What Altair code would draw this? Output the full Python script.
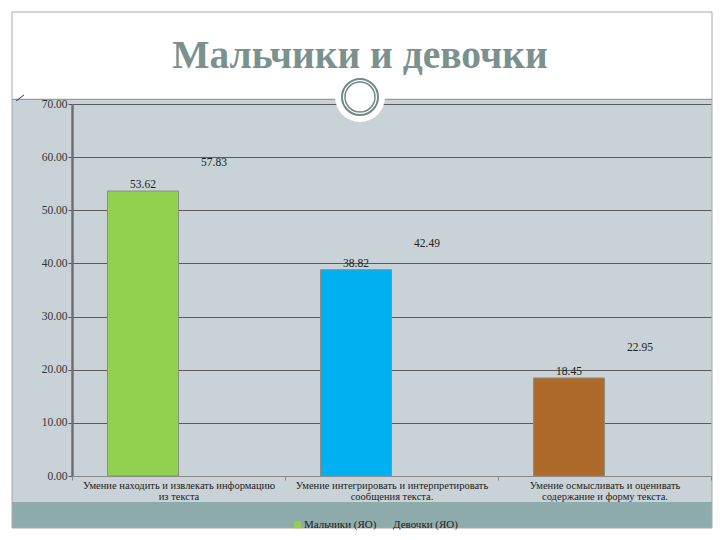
import altair as alt
import pandas as pd

categories = [
    "Умение находить и извлекать информацию|из текста",
    "Умение интегрировать и интерпретировать|сообщения текста.",
    "Умение осмысливать и оценивать|содержание и форму текста.",
]
series = ["Мальчики (ЯО)", "Девочки (ЯО)"]
boys = [53.62, 38.82, 18.45]
girls = [57.83, 42.49, 22.95]
bar_colors = ["#92d050", "#00b0f0", "#ad6a2b"]
title_text = "Мальчики и девочки"

rows = []
keys, key_colors = [], []
for i, c in enumerate(categories):
    for s, vals in zip(series, [boys, girls]):
        key = s if i == 0 else f"{s} {i}"
        rows.append({"cat": c, "series": s, "value": vals[i], "key": key})
        keys.append(key)
        key_colors.append(bar_colors[i] if s == series[0] else "rgba(0,0,0,0)")
df = pd.DataFrame(rows)

# plot area origin in page pixels
OX, OY = 72, 104
W, H = 639, 372
one = alt.Data(values=[{"a": 1}])


def rect(x0, y0, x1, y1, **kw):
    return alt.Chart(one).mark_rect(**kw).encode(
        x=alt.value(x0 - OX), x2=alt.value(x1 - OX),
        y=alt.value(y0 - OY), y2=alt.value(y1 - OY))


# decorations (slide background)
white_top = rect(0, 0, 720, 98.5, fill="white")
white_left = rect(0, 0, 12, 540, fill="white")
white_right = rect(712, 0, 720, 540, fill="white")
white_bottom = rect(0, 528, 720, 540, fill="white")
teal = rect(12, 502, 712, 528, fill="#8eacab")
border = rect(12, 12, 712, 528, fill="rgba(0,0,0,0)", stroke="#a8a8a8", strokeWidth=1)
hline = alt.Chart(one).mark_rule(color="#9a9a9a", strokeWidth=1).encode(
    x=alt.value(12 - OX), x2=alt.value(712 - OX), y=alt.value(99.5 - OY))
slash = alt.Chart(one).mark_rule(color="#333333", strokeWidth=1).encode(
    x=alt.value(16 - OX), x2=alt.value(24 - OX), y=alt.value(101 - OY), y2=alt.value(95 - OY))
halo = alt.Chart(one).mark_point(shape="circle", filled=True, fill="white", opacity=1, size=2500).encode(
    x=alt.value(360 - OX), y=alt.value(97 - OY))
ring1 = alt.Chart(one).mark_point(shape="circle", filled=False, stroke="#6f8a87", strokeWidth=2, opacity=1, size=1296).encode(
    x=alt.value(360 - OX), y=alt.value(97 - OY))
ring2 = alt.Chart(one).mark_point(shape="circle", filled=False, stroke="#6f8a87", strokeWidth=1.5, opacity=1, size=900).encode(
    x=alt.value(360 - OX), y=alt.value(97 - OY))
title = alt.Chart(one).mark_text(
    text=title_text, font="Liberation Serif", fontWeight="bold", fontSize=39.5,
    color="#7a918d", align="center", baseline="middle").encode(
    x=alt.value(360 - OX), y=alt.value(56 - OY))

x_enc = alt.X("cat:N", sort=categories,
              scale=alt.Scale(paddingInner=0, paddingOuter=0),
              axis=alt.Axis(title=None, labelAngle=0, labelExpr="split(datum.label, '|')",
                            tickBand="extent", labelFont="Liberation Serif", labelFontSize=10.5,
                            labelColor="#222222", labelLineHeight=11, labelPadding=0,
                            domainColor="#8a8a8a", tickColor="#8a8a8a", tickSize=4,
                            grid=False, labelLimit=260, zindex=1))
xo_enc = alt.XOffset("series:N", sort=series,
                     scale=alt.Scale(paddingInner=0, paddingOuter=0.5))
y_enc = alt.Y("value:Q", scale=alt.Scale(domain=[0, 70]),
              axis=alt.Axis(title=None, values=[0, 10, 20, 30, 40, 50, 60, 70], format=".2f",
                            labelFont="Liberation Serif", labelFontSize=11.5, labelColor="#333333",
                            labelPadding=1, tickSize=4, tickColor="#555555",
                            domainColor="#6f6f6f", domainWidth=2.5,
                            grid=True, gridColor="#5a5a5a", gridWidth=1))

bars = alt.Chart(df).mark_bar(stroke="#8a8f86", strokeWidth=1).encode(
    x=x_enc, xOffset=xo_enc, y=y_enc,
    fill=alt.Fill("key:N", scale=alt.Scale(domain=keys, range=key_colors),
                  legend=alt.Legend(title=None, values=series, orient="none",
                                    legendX=292 - OX, legendY=519 - OY, direction="horizontal",
                                    symbolType="square", symbolSize=49, symbolStrokeWidth=0,
                                    labelFont="Liberation Serif", labelFontSize=11,
                                    labelColor="#222222", labelOffset=1, columnPadding=4)),
    strokeOpacity=alt.condition(alt.datum.series == series[0], alt.value(1), alt.value(0)),
)

labels = alt.Chart(df).mark_text(font="Liberation Serif", fontSize=11.5, color="#222222",
                                 baseline="bottom", dy=-1).encode(
    x=alt.X("cat:N", sort=categories), xOffset=alt.XOffset("series:N", sort=series),
    y="value:Q", text=alt.Text("value:Q", format=".2f"))

chart = alt.layer(
    white_top, white_left, white_right, white_bottom, teal, border, hline, slash,
    halo, ring1, ring2, title, bars, labels
).properties(
    width=W, height=H,
    autosize=alt.AutoSizeParams(type="none"),
    padding={"left": OX, "top": OY, "right": 720 - OX - W, "bottom": 540 - OY - H},
    background="#c9d2d6",
).configure_view(stroke=None)

chart.save("out.html", embed_options={"renderer": "svg", "actions": False})
